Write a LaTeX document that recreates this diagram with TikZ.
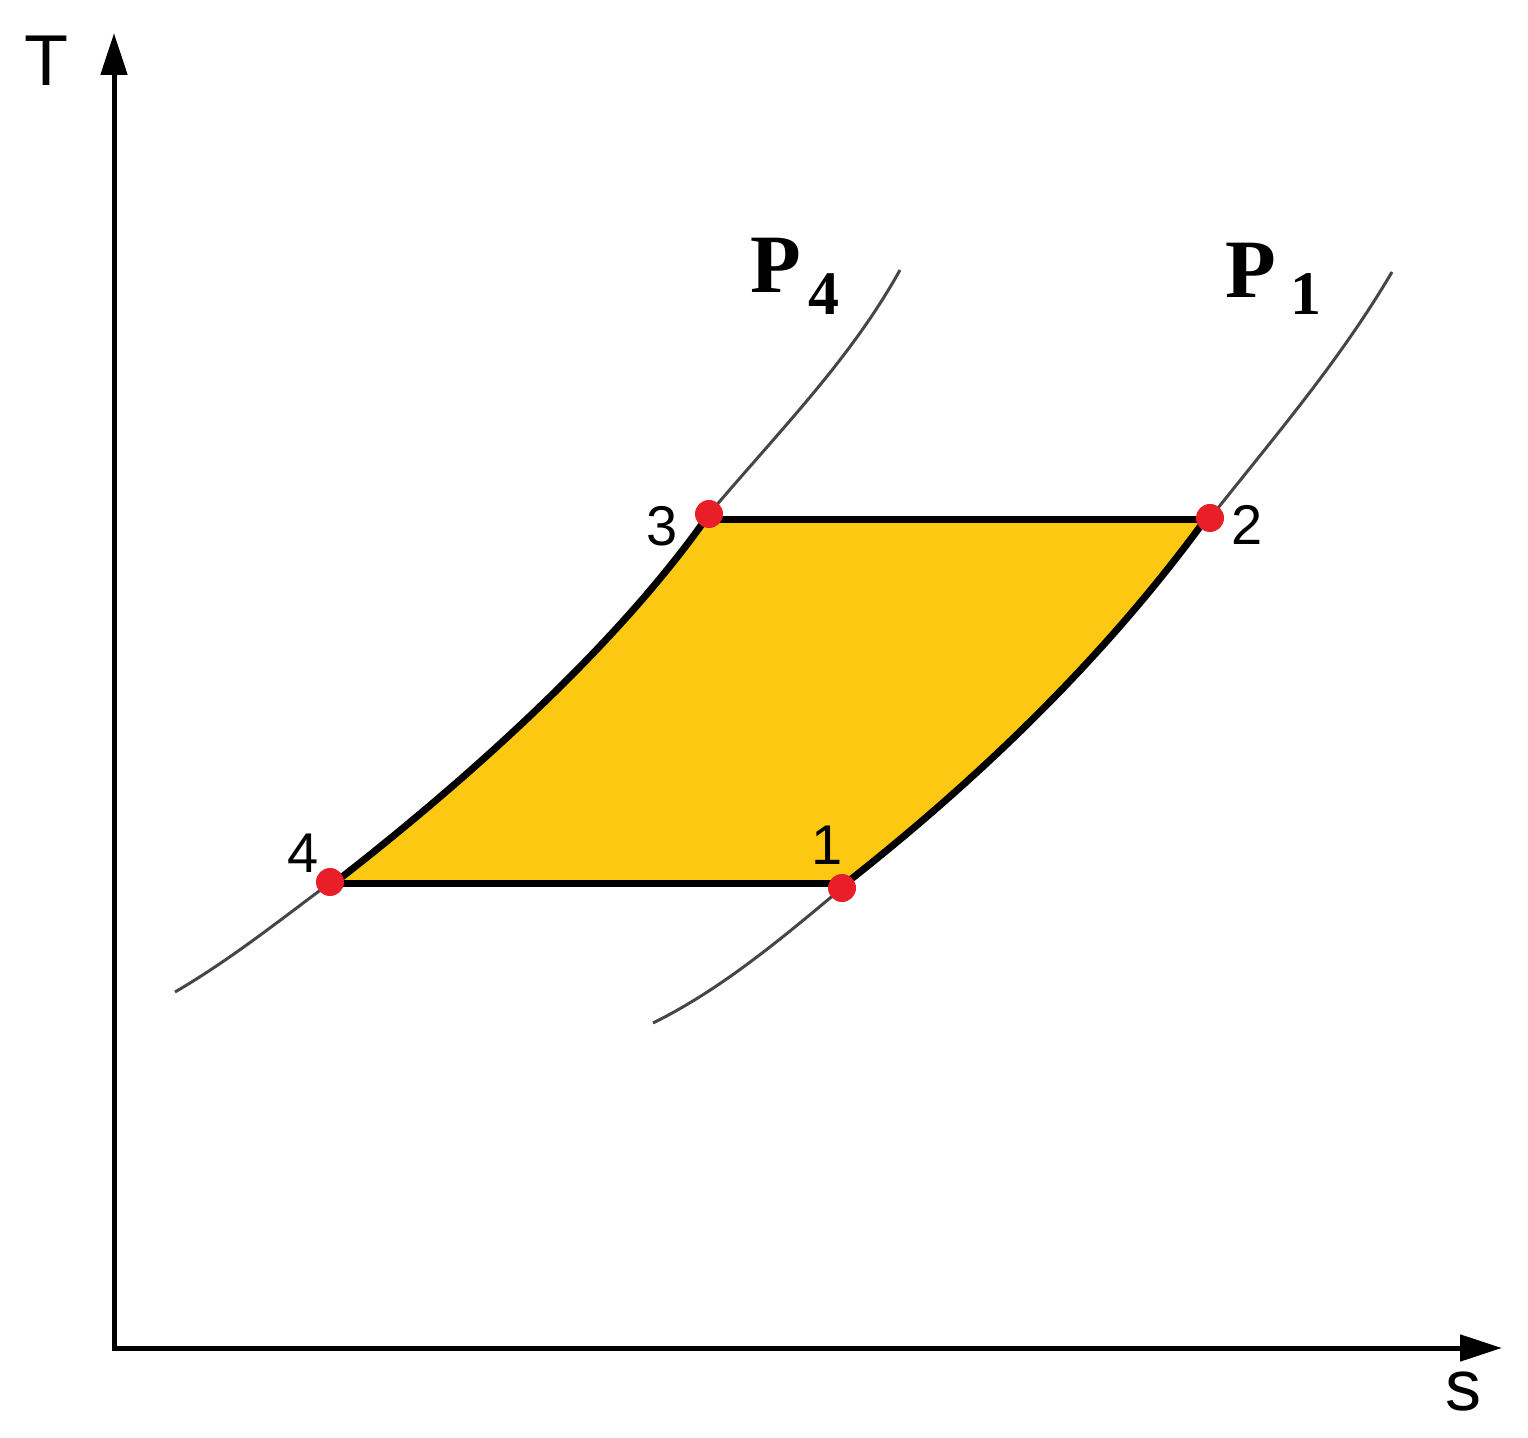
\documentclass[tikz,border=0pt]{standalone}
\usepackage{fontspec}
\setmainfont{Liberation Sans}
\newfontfamily\serifbold{Liberation Serif}[BoldFont={* Bold}]
\usetikzlibrary{arrows.meta}
\definecolor{cycfill}{RGB}{253,200,17}
\definecolor{dotred}{RGB}{232,30,40}
\definecolor{isogray}{RGB}{70,70,70}
\tikzset{
  axisline/.style={line width=2.5pt, {Triangle[length=21pt,width=13pt]}-{Triangle[length=21pt,width=13pt]}},
  isobar/.style={line width=1.5pt, isogray},
  cycedge/.style={line width=3.5pt, black, line join=round},
  statedot/.style={circle, fill=dotred, draw=none, minimum size=14pt, inner sep=0pt},
  numlabel/.style={inner sep=0pt, font=\fontsize{28}{28}\selectfont},
  axlabel/.style={inner sep=0pt, font=\fontsize{36}{36}\selectfont},
  plabel/.style={inner sep=0pt, anchor=base west, font=\serifbold\bfseries\fontsize{41.5}{41.5}\selectfont},
  psub/.style={inner sep=0pt, anchor=base west, font=\serifbold\bfseries\fontsize{31}{31}\selectfont}
}
\begin{document}
\begin{tikzpicture}[x=0.5pt,y=-0.5pt]
\useasboundingbox (0,0) rectangle (1528,1438);
% axes
\coordinate (O) at (114,1348);
\coordinate (ytip) at (114,33);
\coordinate (xtip) at (1502,1348);
\draw[axisline] (ytip) -- (O) -- (xtip);
\node[axlabel] (Tlab) at (46,61) {T};
\node[axlabel] (slab) at (1463,1392) {s};
% state points
\coordinate (c1) at (845,884);
\coordinate (c2) at (1205,520);
\coordinate (c3) at (705,520);
\coordinate (c4) at (333,884);
% isobar end points
\coordinate (a4) at (175,992);
\coordinate (b4) at (900,270);
\coordinate (a1) at (653,1023);
\coordinate (b1) at (1392,272);
% isobars (thin)
\draw[isobar] (a4) .. controls (230,960) and (280,920) .. (330,883);
\draw[isobar] (709,514) .. controls (780,430) and (850,360) .. (b4);
\draw[isobar] (a1) .. controls (720,990) and (780,940) .. (842,888);
\draw[isobar] (1210,518) .. controls (1280,430) and (1340,360) .. (b1);
% cycle fill
\fill[cycfill] (c4) -- (c1) .. controls (990,770) and (1110,650) .. (c2) -- (c3) .. controls (620,640) and (480,770) .. (c4) -- cycle;
% cycle edges
\draw[cycedge] (c4) -- (c1);
\draw[cycedge] (c1) .. controls (990,770) and (1110,650) .. (c2);
\draw[cycedge] (c2) -- (c3);
\draw[cycedge] (c3) .. controls (620,640) and (480,770) .. (c4);
% dots
\node[statedot] (d1) at (842,888) {};
\node[statedot] (d2) at (1210,518) {};
\node[statedot] (d3) at (709,514) {};
\node[statedot] (d4) at (330,882) {};
% numbers
\node[numlabel] (n1) at (827,845) {1};
\node[numlabel] (n2) at (1247,525) {2};
\node[numlabel] (n3) at (662,526) {3};
\node[numlabel] (n4) at (303,853) {4};
% pressure labels
\node[plabel] (P4) at (750,293) {P};
\node[psub] (P4s) at (808,315) {4};
\node[plabel] (P1) at (1225,298) {P};
\node[psub] (P1s) at (1290,315) {1};
\end{tikzpicture}
\end{document}
